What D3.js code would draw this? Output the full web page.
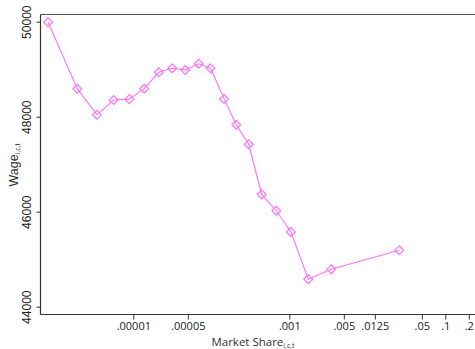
<!DOCTYPE html>
<html>
<head>
<meta charset="utf-8">
<script src="https://cdn.jsdelivr.net/npm/d3@7"></script>
<style>
  html, body { margin: 0; padding: 0; background: #fff; }
  svg { display: block; }
</style>
</head>
<body>
<svg id="chart" width="475" height="349"></svg>
<script>
// Data
const marketShare = [8.1e-7, 1.91e-6, 3.42e-6, 5.61e-6, 8.89e-6, 1.38e-5, 2.12e-5, 3.16e-5, 4.64e-5, 6.89e-5,
                     9.8e-5, 1.46e-4, 2.09e-4, 3.02e-4, 4.43e-4, 6.81e-4, 1.05e-3, 1.75e-3, 3.45e-3, 2.57e-2];
const wage = [49990, 48590, 48040, 48350, 48370, 48590, 48935, 49020, 48985, 49115,
              49020, 48375, 47830, 47420, 46365, 46020, 45575, 44580, 44790, 45190];
const xTicks = [0.00001, 0.00005, 0.001, 0.005, 0.0125, 0.05, 0.1, 0.2];
const xTickLabels = [".00001", ".00005", ".001", ".005", ".0125", ".05", ".1", ".2"];
const yTicks = [44000, 46000, 48000, 50000];

const svg = d3.select("#chart");
const mLeft = 40.5, mTop = 14.5, mBottom = 314.5, mRight = 480;
const color = "#ff70ff";

// log scale: 78 px/decade, 1e-3 at x=289.3
const x = d3.scaleLog().domain([1e-3, 1e-1]).range([289.3, 289.3 + 156]);
const y = d3.scaleLinear().domain([44000, 50000]).range([306.7, 21.7]);

// Frame
svg.append("line").attr("x1", mLeft).attr("x2", mRight).attr("y1", mTop).attr("y2", mTop)
  .attr("stroke", "#555").attr("stroke-width", 1.2);

const gx = svg.append("g").attr("transform", `translate(0,${mBottom})`)
  .call(d3.axisBottom(x).tickValues(xTicks).tickFormat((d, i) => xTickLabels[i]).tickSize(5).tickSizeOuter(0));
gx.select(".domain").attr("d", `M${mLeft},0H${mRight}`).attr("stroke", "#333").attr("stroke-width", 1.2);
gx.selectAll(".tick line").attr("stroke", "#333");
gx.selectAll(".tick text").attr("font-family", "'Open Sans', sans-serif").attr("font-size", 11)
  .attr("fill", "#222").attr("dy", "0.85em").attr("y", 6);

const gy = svg.append("g").attr("transform", `translate(${mLeft},0)`)
  .call(d3.axisLeft(y).tickValues(yTicks).tickFormat(d3.format("d")).tickSize(4).tickSizeOuter(0));
gy.select(".domain").attr("d", `M0,${mTop}V${mBottom}`).attr("stroke", "#333").attr("stroke-width", 1.2);
gy.selectAll(".tick line").attr("stroke", "#333");
gy.selectAll(".tick text")
  .attr("font-family", "'Liberation Sans', Arial, sans-serif").attr("font-size", 12).attr("fill", "#222")
  .attr("x", null).attr("dy", null)
  .attr("text-anchor", "middle")
  .attr("transform", "translate(-10,0) rotate(-90)");

// Axis titles
const xt = svg.append("text").attr("x", 253).attr("y", 346).attr("text-anchor", "middle")
  .attr("font-family", "'Open Sans', sans-serif").attr("font-size", 11.5).attr("fill", "#333");
xt.append("tspan").text("Market Share");
xt.append("tspan").attr("font-size", 7).attr("dy", 2).text("i,c,t");

const yt = svg.append("text").attr("transform", "translate(18,165) rotate(-90)").attr("text-anchor", "middle")
  .attr("font-family", "'Liberation Sans', Arial, sans-serif").attr("font-size", 12.5).attr("fill", "#333");
yt.append("tspan").text("Wage");
yt.append("tspan").attr("font-size", 7).attr("dy", 2).text("i,c,t");

// Line + markers
const pts = marketShare.map((m, i) => ({ m, w: wage[i] }));
svg.append("path").datum(pts)
  .attr("fill", "none").attr("stroke", color).attr("stroke-width", 1.1)
  .attr("d", d3.line().x(d => x(d.m)).y(d => y(d.w)));

svg.selectAll("path.mk").data(pts).join("path").attr("class", "mk")
  .attr("transform", d => `translate(${x(d.m)},${y(d.w)})`)
  .attr("d", d3.symbol().type(d3.symbolDiamond2).size(50))
  .attr("fill", "none").attr("stroke", color).attr("stroke-width", 1.2);
</script>
</body>
</html>
